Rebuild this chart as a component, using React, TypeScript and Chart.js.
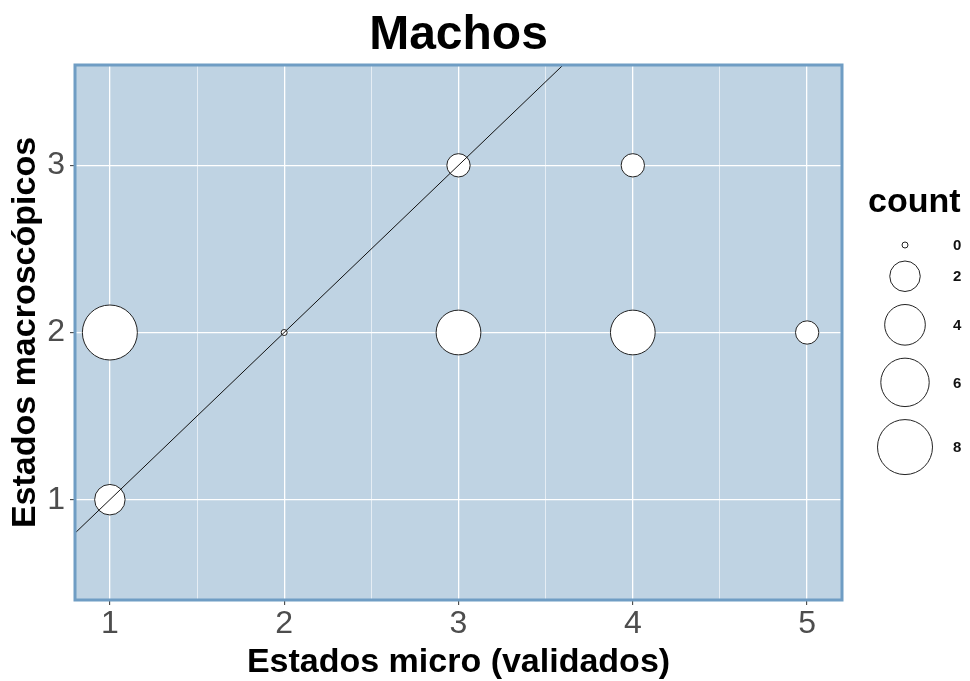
import React, { useEffect, useRef } from "react";
import { Chart, registerables } from "chart.js";

Chart.register(...registerables);

// ---- Data ----
const microStates = [1, 1, 2, 3, 3, 4, 4, 5];
const macroStates = [1, 2, 2, 2, 3, 2, 3, 2];
const counts = [2, 8, 0, 5, 1, 5, 1, 1];

const xBreaks = [1, 2, 3, 4, 5];
const xMinorBreaks = [1.5, 2.5, 3.5, 4.5];
const yBreaks = [1, 2, 3];
const legendBreaks = [0, 2, 4, 6, 8];

const refLineX = [0, 6]; // identity line y = x
const titleText = "Machos";
const xTitle = "Estados micro (validados)";
const yTitle = "Estados macroscópicos";
const legendTitle = "count";

// ---- Styles ----
const FONT = "'Liberation Sans', Arial, sans-serif";
const PANEL_BG = "rgb(191,211,227)";
const PANEL_BORDER = "rgb(111,157,196)";
const countMin = Math.min(...counts, ...legendBreaks);
const countMax = Math.max(...counts, ...legendBreaks);
const sizeFor = (v: number) =>
  3 + 24.5 * Math.sqrt((v - countMin) / (countMax - countMin));

const points = microStates.map((x, i) => ({ x, y: macroStates[i], count: counts[i] }));
const refLine = refLineX.map((v) => ({ x: v, y: v }));

const isMajorX = (v: number) => xBreaks.includes(v);

const decorPlugin = {
  id: "decor",
  beforeDraw(chart: any) {
    const { ctx, chartArea: a } = chart;
    ctx.save();
    ctx.fillStyle = PANEL_BG;
    ctx.fillRect(a.left, a.top, a.right - a.left, a.bottom - a.top);
    ctx.restore();
  },
  afterDatasetsDraw(chart: any) {
    const { ctx, chartArea: a } = chart;
    ctx.save();
    ctx.strokeStyle = PANEL_BORDER;
    ctx.lineWidth = 3;
    ctx.strokeRect(a.left, a.top, a.right - a.left, a.bottom - a.top);
    ctx.restore();
  },
  afterDraw(chart: any) {
    const { ctx, chartArea: a } = chart;
    ctx.save();
    // Title
    ctx.fillStyle = "#000";
    ctx.font = `bold 48px ${FONT}`;
    ctx.textAlign = "center";
    ctx.textBaseline = "alphabetic";
    ctx.fillText(titleText, (a.left + a.right) / 2, 49);

    // Legend
    ctx.textAlign = "left";
    ctx.font = `bold 34px ${FONT}`;
    ctx.fillText(legendTitle, 868, 212);
    const cx = 905;
    let y = 245;
    legendBreaks.forEach((v, i) => {
      const r = sizeFor(v);
      if (i > 0) y += sizeFor(legendBreaks[i - 1]) + r + 13;
      ctx.beginPath();
      ctx.arc(cx, y, r, 0, Math.PI * 2);
      ctx.fillStyle = "#fff";
      ctx.fill();
      ctx.lineWidth = 1;
      ctx.strokeStyle = "#222";
      ctx.stroke();
      ctx.fillStyle = "#111";
      ctx.font = `bold 15px ${FONT}`;
      ctx.textBaseline = "middle";
      ctx.fillText(String(v), 953, y + 1);
    });
    ctx.restore();
  },
};

export default function App() {
  const ref = useRef<HTMLCanvasElement | null>(null);
  useEffect(() => {
    if (!ref.current) return;
    const chart = new Chart(ref.current, {
      type: "scatter",
      data: {
        datasets: [
          {
            type: "line",
            data: refLine,
            borderColor: "#111",
            borderWidth: 1,
            pointRadius: 0,
            fill: false,
            order: 1,
          } as any,
          {
            type: "scatter",
            data: points as any,
            backgroundColor: "#fff",
            borderColor: "#222",
            borderWidth: 1,
            pointRadius: (c: any) => sizeFor(c.raw ? c.raw.count : 0),
            order: 2,
          } as any,
        ],
      },
      options: {
        animation: false,
        responsive: false,
        events: [],
        layout: { padding: { top: 65, right: 128, left: 0, bottom: 0 } },
        plugins: {
          legend: { display: false },
          tooltip: { enabled: false },
          title: { display: false },
        },
        scales: {
          x: {
            type: "linear",
            min: 0.8,
            max: 5.2,
            afterBuildTicks: (s: any) => {
              s.ticks = [...xBreaks, ...xMinorBreaks]
                .sort((p, q) => p - q)
                .map((v) => ({ value: v }));
            },
            afterFit: (s: any) => {
              s.height = 81;
            },
            ticks: {
              autoSkip: false,
              maxRotation: 0,
              padding: 0,
              color: "#4D4D4D",
              font: { family: FONT, size: 32 },
              callback: (v: any) => (isMajorX(Number(v)) ? String(v) : ""),
            },
            grid: {
              color: "#fff",
              lineWidth: (c: any) => (c.tick && isMajorX(c.tick.value) ? 1.3 : 0.6),
              tickColor: (c: any) =>
                c.tick && isMajorX(c.tick.value) ? "#333" : "rgba(0,0,0,0)",
              tickLength: 5,
              tickWidth: 1,
            },
            border: { display: false },
            title: {
              display: true,
              text: xTitle,
              color: "#000",
              font: { family: FONT, size: 34, weight: "bold", lineHeight: 1 },
              padding: { top: 0, bottom: 1.5 },
            },
          },
          y: {
            type: "linear",
            min: 0.4,
            max: 3.6,
            afterBuildTicks: (s: any) => {
              s.ticks = yBreaks.map((v) => ({ value: v }));
            },
            afterFit: (s: any) => {
              s.width = 75;
            },
            ticks: {
              autoSkip: false,
              padding: 5,
              color: "#4D4D4D",
              font: { family: FONT, size: 32 },
            },
            grid: {
              color: "#fff",
              lineWidth: 1.3,
              tickColor: "#333",
              tickLength: 5,
              tickWidth: 1,
            },
            border: { display: false },
            title: {
              display: true,
              text: yTitle,
              color: "#000",
              font: { family: FONT, size: 34, weight: "bold", lineHeight: 1 },
              padding: { top: 8.5, bottom: 0 },
            },
          },
        },
      },
      plugins: [decorPlugin],
    } as any);
    return () => chart.destroy();
  }, []);
  return (
    <div style={{ position: "absolute", left: 0, top: 0, width: 970, height: 681, background: "#fff" }}>
      <canvas ref={ref} width={970} height={681} />
    </div>
  );
}
